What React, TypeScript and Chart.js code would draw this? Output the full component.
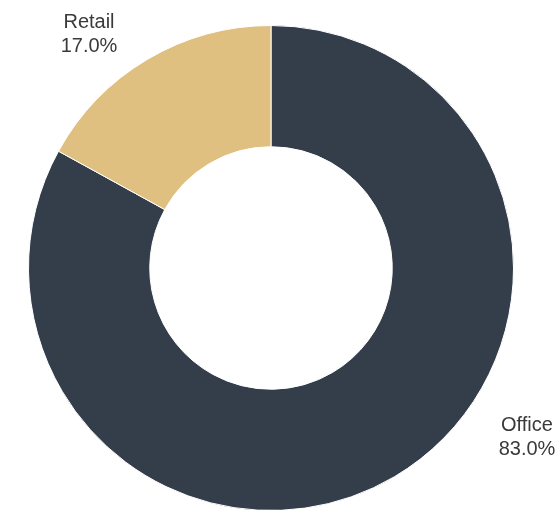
import React, { useEffect, useRef } from "react";
import { Chart, registerables } from "chart.js";

Chart.register(...registerables);

const categories = ["Office", "Retail"];
const values = [83.0, 17.0];
const colors = ["#343d4a", "#e0c080"];

const labelPlugin = {
  id: "sliceLabels",
  afterDraw(chart: any) {
    const ctx = chart.ctx;
    const opts = chart.options.plugins.sliceLabels;
    const pos = opts.positions as { x: number; y: number }[];
    ctx.save();
    ctx.font = "20px 'Liberation Sans', Arial, sans-serif";
    ctx.fillStyle = "#3a3a3a";
    ctx.textAlign = "center";
    ctx.textBaseline = "alphabetic";
    categories.forEach((c, i) => {
      const p = pos[i];
      ctx.fillText(c, p.x, p.y);
      ctx.fillText(values[i].toFixed(1) + "%", p.x, p.y + 23.5);
    });
    ctx.restore();
  },
};

export default function App() {
  const ref = useRef<HTMLCanvasElement | null>(null);
  useEffect(() => {
    if (!ref.current) return;
    const chart = new Chart(ref.current, {
      type: "doughnut",
      data: {
        labels: categories,
        datasets: [
          {
            data: values,
            backgroundColor: colors,
            borderColor: "#ffffff",
            borderWidth: 1,
          },
        ],
      },
      options: {
        responsive: false,
        devicePixelRatio: 1,
        animation: false,
        cutout: "50%",
        layout: { padding: { left: 28, right: 45, top: 25, bottom: 9 } },
        plugins: {
          legend: { display: false },
          tooltip: { enabled: false },
          sliceLabels: {
            positions: [
              { x: 527, y: 431 },
              { x: 89, y: 28 },
            ],
          },
        } as any,
      },
      plugins: [labelPlugin],
    });
    return () => chart.destroy();
  }, []);
  return (
    <div style={{ position: "fixed", top: 0, left: 0, width: 559, height: 520, background: "#fff" }}>
      <canvas ref={ref} width={559} height={520} style={{ width: 559, height: 520, display: "block" }} />
    </div>
  );
}
